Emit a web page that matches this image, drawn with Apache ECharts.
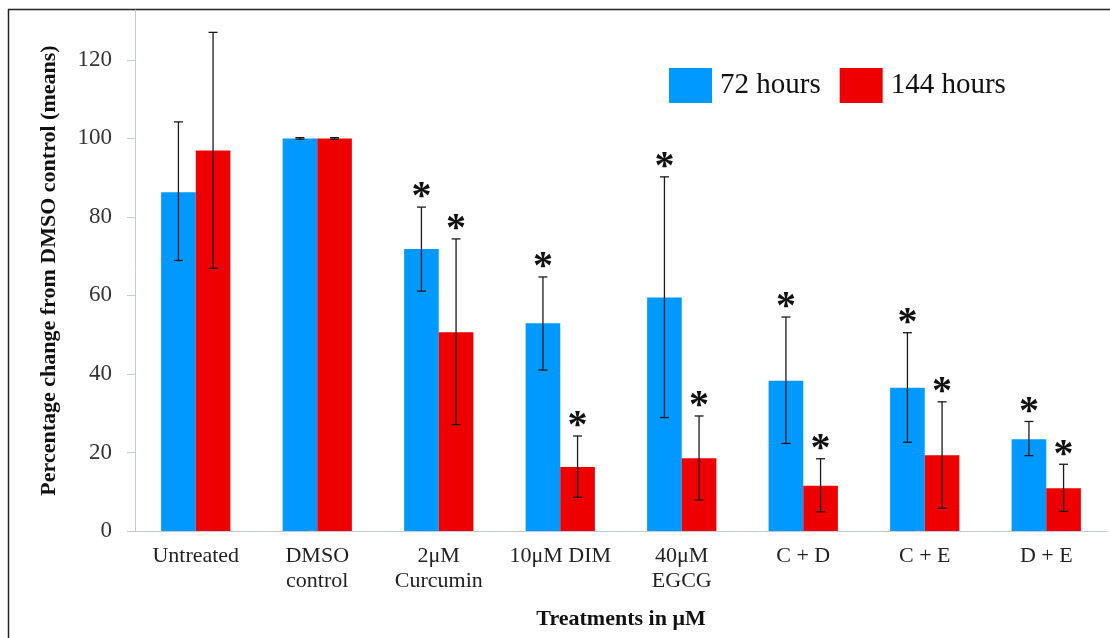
<!DOCTYPE html>
<html><head><meta charset="utf-8">
<script src="https://cdn.jsdelivr.net/npm/echarts@6/dist/echarts.min.js"></script>
<style>html,body{margin:0;padding:0;background:#fff}#c{width:1110px;height:638px}</style>
</head><body><div id="c"></div>
<script>
const categories = ['Untreated', 'DMSO\ncontrol', '2μM\nCurcumin', '10μM DIM', '40μM\nEGCG', 'C + D', 'C + E', 'D + E'];
const seriesNames = ['72 hours', '144 hours'];
const mean72 = [86.3, 100, 71.8, 52.9, 59.5, 38.3, 36.5, 23.4];
const errLow72 = [68.9, 99.8, 61.1, 41.0, 28.9, 22.3, 22.6, 19.2];
const errHigh72 = [104.2, 100.2, 82.5, 64.7, 90.2, 54.5, 50.5, 27.9];
const sig72 = [0, 0, 1, 1, 1, 1, 1, 1];
const mean144 = [96.9, 100, 50.6, 16.3, 18.5, 11.5, 19.3, 10.9];
const errLow144 = [66.9, 99.8, 27.1, 8.6, 7.9, 4.9, 5.8, 5.0];
const errHigh144 = [127.0, 100.2, 74.4, 24.2, 29.3, 18.4, 32.9, 17.0];
const sig144 = [0, 0, 1, 1, 1, 1, 1, 1];
const yTicks = [0, 20, 40, 60, 80, 100, 120];

const FONT = '"Liberation Serif", "Times New Roman", serif';
const AXIS_COLOR = '#c3cad6';

function errData(lo, hi, sig) {
  return categories.map((c, i) => [i, lo[i], hi[i], sig[i]]);
}
function errRender(offsetFrac) {
  return function (params, api) {
    const i = api.value(0);
    const band = api.size([1, 0])[0];
    const top = api.coord([i, api.value(2)]);
    const bot = api.coord([i, api.value(1)]);
    const x = top[0] + band * offsetFrac;
    const cap = 4.5;
    const st = { stroke: '#1a1a1a', lineWidth: 1.3 };
    const children = [
      { type: 'line', shape: { x1: x, y1: top[1], x2: x, y2: bot[1] }, style: st },
      { type: 'line', shape: { x1: x - cap, y1: top[1], x2: x + cap, y2: top[1] }, style: st },
      { type: 'line', shape: { x1: x - cap, y1: bot[1], x2: x + cap, y2: bot[1] }, style: st }
    ];
    if (api.value(3)) {
      children.push({ type: 'text', style: { text: '*', x: x, y: top[1] + 11, align: 'center', verticalAlign: 'bottom', font: 'bold 40px ' + FONT, fill: '#111' } });
    }
    return { type: 'group', children: children };
  };
}

const chart = echarts.init(document.getElementById('c'));
chart.setOption({
  animation: false,
  backgroundColor: '#fff',
  graphic: [
    { type: 'line', shape: { x1: 8.5, y1: 9, x2: 8.5, y2: 638 }, style: { stroke: '#222', lineWidth: 1.5 } },
    { type: 'line', shape: { x1: 8, y1: 9.5, x2: 1110, y2: 9.5 }, style: { stroke: '#222', lineWidth: 1.5 } }
  ],
  legend: {
    data: seriesNames,
    left: 664, top: 63,
    itemWidth: 43, itemHeight: 35, itemGap: 19,
    icon: 'rect',
    textStyle: { fontFamily: FONT, fontSize: 29, color: '#111', padding: [0, 0, 0, 3] }
  },
  grid: { left: 135, right: 3, top: 10, bottom: 107, containLabel: false },
  xAxis: {
    type: 'category',
    data: categories,
    axisLine: { lineStyle: { color: AXIS_COLOR, width: 1 } },
    axisTick: { length: 6, lineStyle: { color: AXIS_COLOR } },
    axisLabel: { fontFamily: FONT, fontSize: 22, color: '#222', lineHeight: 25, margin: 13, interval: 0 },
    name: 'Treatments in μM',
    nameLocation: 'middle', nameGap: 77,
    nameTextStyle: { fontFamily: FONT, fontSize: 22, fontWeight: 'bold', color: '#111' }
  },
  yAxis: {
    type: 'value',
    min: 0, max: 132.7,
    splitLine: { show: false },
    axisLine: { show: true, lineStyle: { color: AXIS_COLOR, width: 1 } },
    axisTick: { show: true, length: 8, customValues: yTicks, lineStyle: { color: AXIS_COLOR } },
    axisLabel: { fontFamily: FONT, fontSize: 23, color: '#333', margin: 23, customValues: yTicks },
    name: 'Percentage change from DMSO control (means)',
    nameLocation: 'middle', nameGap: 75, nameRotate: 90,
    nameTextStyle: { fontFamily: FONT, fontSize: 22, fontWeight: 'bold', color: '#111' }
  },
  series: [
    { name: seriesNames[0], type: 'bar', data: mean72, barGap: '0%', barCategoryGap: '43%', itemStyle: { color: '#0099ff' } },
    { name: seriesNames[1], type: 'bar', data: mean144, barGap: '0%', barCategoryGap: '43%', itemStyle: { color: '#ee0000' } },
    { type: 'custom', renderItem: errRender(-0.1425), data: errData(errLow72, errHigh72, sig72), z: 5 },
    { type: 'custom', renderItem: errRender(0.1425), data: errData(errLow144, errHigh144, sig144), z: 5 }
  ]
});
</script></body></html>
